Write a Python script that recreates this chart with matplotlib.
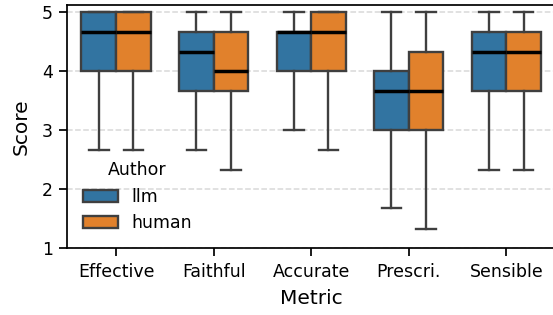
import matplotlib
matplotlib.use("Agg")
import matplotlib.pyplot as plt
from matplotlib.patches import Patch

# ── Données ───────────────────────────────────────────────────────────────────
metrics = ["Effective", "Faithful", "Accurate", "Prescri.", "Sensible"]
authors = ["llm", "human"]

llm_whislo = [2.67, 2.67, 3.00, 1.67, 2.33]
llm_q1 = [4.00, 3.67, 4.00, 3.00, 3.67]
llm_med = [4.67, 4.33, 4.67, 3.67, 4.33]
llm_q3 = [5.00, 4.67, 4.67, 4.00, 4.67]
llm_whishi = [5.00, 5.00, 5.00, 5.00, 5.00]

human_whislo = [2.67, 2.33, 2.67, 1.33, 2.33]
human_q1 = [4.00, 3.67, 4.00, 3.00, 3.67]
human_med = [4.67, 4.00, 4.67, 3.67, 4.33]
human_q3 = [5.00, 4.67, 5.00, 4.33, 4.67]
human_whishi = [5.00, 5.00, 5.00, 5.00, 5.00]

# ── Style ─────────────────────────────────────────────────────────────────────
_PALETTE = {"llm": "#3274a1", "human": "#e1812c"}
_EDGE = "#3f3f3f"
_BOX_W = 0.355
_LW = 1.7


def _stats(whislo, q1, med, q3, whishi):
    return [
        {"whislo": a, "q1": b, "med": c, "q3": d, "whishi": e, "fliers": []}
        for a, b, c, d, e in zip(whislo, q1, med, q3, whishi)
    ]


series = {
    "llm": _stats(llm_whislo, llm_q1, llm_med, llm_q3, llm_whishi),
    "human": _stats(human_whislo, human_q1, human_med, human_q3, human_whishi),
}

fig = plt.figure(figsize=(5.53, 3.15), dpi=100)
# l'axe dépasse légèrement à droite : le bord droit est rogné comme sur l'original
ax = fig.add_axes([0.1217, 0.2127, 0.882, 0.7714])

for k, author in enumerate(authors):
    offset = (k - 0.5) * _BOX_W
    positions = [i + offset for i in range(len(metrics))]
    ax.bxp(
        series[author],
        positions=positions,
        widths=_BOX_W,
        patch_artist=True,
        showfliers=False,
        manage_ticks=False,
        boxprops=dict(facecolor=_PALETTE[author], edgecolor=_EDGE, linewidth=_LW),
        whiskerprops=dict(color=_EDGE, linewidth=_LW),
        capprops=dict(color=_EDGE, linewidth=_LW),
        medianprops=dict(color="black", linewidth=2.5),
        capwidths=0.2,
        zorder=3,
    )

ax.set_xticks(range(len(metrics)))
ax.set_xticklabels(metrics, fontsize=12.5)
ax.set_xlim(-0.5, 4.5)
ax.set_ylim(1, 5.12)
ax.set_yticks([1, 2, 3, 4, 5])
ax.tick_params(axis="y", labelsize=12.5)
ax.tick_params(length=6, width=1.25, pad=4.5)
ax.set_xlabel("Metric", fontsize=14.5, labelpad=6)
ax.set_ylabel("Score", fontsize=14.5, labelpad=8)
ax.grid(axis="y", linestyle="--", color="#d9d9d9", linewidth=1.1, zorder=0)
ax.set_axisbelow(True)
for side in ("left", "bottom", "top", "right"):
    ax.spines[side].set_linewidth(1.25)

handles = [Patch(facecolor=_PALETTE[a], edgecolor=_EDGE, linewidth=_LW, label=a) for a in authors]
ax.legend(
    handles=handles,
    title="Author",
    loc="lower left",
    bbox_to_anchor=(0.0, 0.0),
    frameon=False,
    fontsize=12.5,
    title_fontsize=12.5,
)

fig.savefig("out.png", dpi=100)
